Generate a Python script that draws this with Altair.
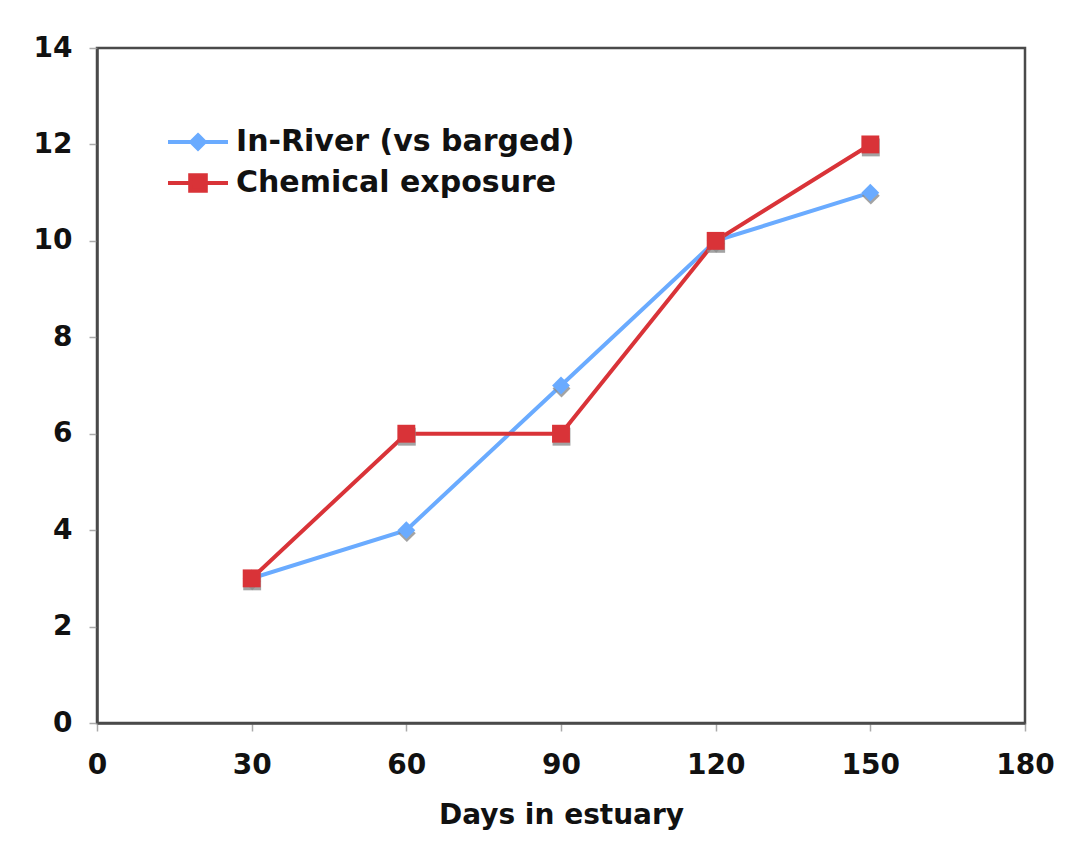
import altair as alt
import pandas as pd

days = [30, 60, 90, 120, 150]
in_river = [3, 4, 7, 10, 11]
chemical = [3, 6, 6, 10, 12]
series_names = ["In-River (vs barged)", "Chemical exposure"]
series_colors = ["#6aabff", "#d93338"]
marker_shapes = ["diamond", "square"]
marker_sizes = [320, 320]
x_ticks = [0, 30, 60, 90, 120, 150, 180]
y_ticks = [0, 2, 4, 6, 8, 10, 12, 14]

rows = []
for d, v in zip(days, in_river):
    rows.append({"days": d, "value": v, "series": series_names[0], "order": 0})
for d, v in zip(days, chemical):
    rows.append({"days": d, "value": v, "series": series_names[1], "order": 1})
df = pd.DataFrame(rows)

FONT = "DejaVu Sans"
FS = 28

# legend glyphs: a line segment with the series marker in the middle
blue_path = "M-2,0H2M0,-0.45L0.45,0L0,0.45L-0.45,0Z"
red_path = "M-2,0H2M-0.52,-0.52H0.52V0.52H-0.52Z"

color_scale = alt.Scale(domain=series_names, range=series_colors)
legend_shape_scale = alt.Scale(domain=series_names, range=[blue_path, red_path])

x_enc = alt.X("days:Q", title="Days in estuary",
              scale=alt.Scale(domain=[0, 180], nice=False),
              axis=alt.Axis(values=x_ticks, grid=False, tickSize=8, labelPadding=20,
                            titlePadding=22, labelFlush=False, domainColor="#4a4a4a",
                            domainWidth=2.5, tickColor="#aaaaaa", tickWidth=1.5))
y_enc = alt.Y("value:Q", title=None,
              scale=alt.Scale(domain=[0, 14], nice=False),
              axis=alt.Axis(values=y_ticks, grid=False, tickSize=8, labelPadding=17,
                            labelFlush=False, domainColor="#4a4a4a", domainWidth=2.5,
                            tickColor="#aaaaaa", tickWidth=1.5))

base = alt.Chart(df)

lines = base.mark_line(strokeWidth=4).encode(
    x=x_enc, y=y_enc,
    color=alt.Color("series:N", scale=color_scale, legend=None),
    order="order:Q",
    detail="series:N",
)

leg = alt.Legend(title=None, symbolOpacity=1, symbolStrokeWidth=4)
legend_layer = base.mark_point(filled=True, opacity=0.001, size=900, strokeWidth=4).encode(
    x="days:Q", y="value:Q",
    fill=alt.Fill("series:N", scale=color_scale, legend=leg),
    stroke=alt.Stroke("series:N", scale=color_scale, legend=leg),
    shape=alt.Shape("series:N", scale=legend_shape_scale, legend=leg),
)

layers = [legend_layer, lines]
for name, col, shp, sz in zip(series_names, series_colors, marker_shapes, marker_sizes):
    sub = base.transform_filter(alt.datum.series == name)
    layers.append(sub.mark_point(filled=True, shape=shp, size=sz, color="#8c8c8c",
                                 opacity=0.8, yOffset=3, xOffset=0.5)
                  .encode(x="days:Q", y="value:Q"))
    layers.append(sub.mark_point(filled=True, shape=shp, size=sz, color=col, opacity=1)
                  .encode(x="days:Q", y="value:Q"))

chart = alt.layer(*layers).properties(
    width=928, height=675,
    autosize=alt.AutoSizeParams(type="none"),
    padding={"left": 89, "top": 40, "right": 37, "bottom": 116},
    background="white",
).configure_view(
    stroke="#4a4a4a", strokeWidth=2.5
).configure_axis(
    labelFont=FONT, labelFontWeight="bold", labelFontSize=FS, labelColor="#111111",
    titleFont=FONT, titleFontWeight="bold", titleFontSize=FS, titleColor="#111111",
).configure_legend(
    orient="none", legendX=84, legendY=77, padding=0,
    labelFont=FONT, labelFontWeight="bold", labelFontSize=30, labelColor="#111111",
    labelLimit=600, symbolSize=900, symbolStrokeWidth=4, symbolOpacity=1,
    labelOffset=21, rowPadding=9,
)

chart.save("out.html", embed_options={"renderer": "svg", "actions": False})
